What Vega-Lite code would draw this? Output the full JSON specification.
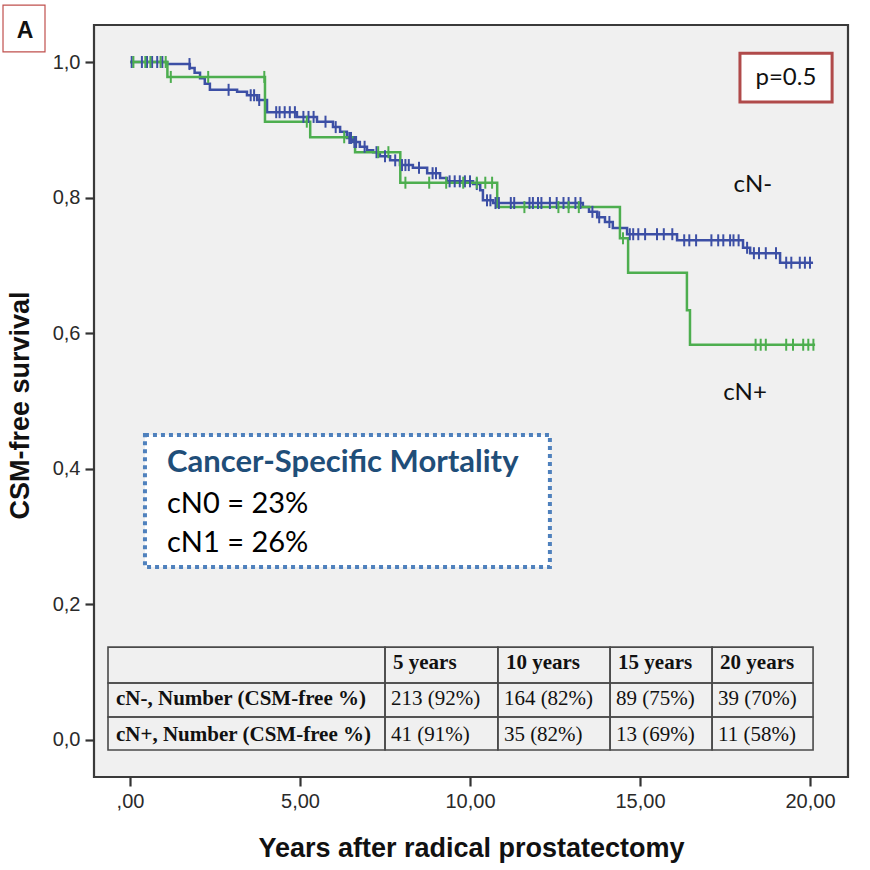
{
  "$schema": "https://vega.github.io/schema/vega-lite/v6.json",
  "width": 754,
  "height": 752,
  "autosize": {"type": "none"},
  "padding": {"left": 94, "top": 25, "right": 22, "bottom": 93},
  "background": "white",
  "config": {
    "view": {"fill": "#f0f0f0", "stroke": "#3a3a3a", "strokeWidth": 2.2},
    "font": "Liberation Sans"
  },
  "datasets": {
    "curves": [
      {"group": "cN-", "t": 0, "s": 1.0},
      {"group": "cN-", "t": 1.09, "s": 0.997},
      {"group": "cN-", "t": 1.76, "s": 0.991},
      {"group": "cN-", "t": 1.9, "s": 0.984},
      {"group": "cN-", "t": 2.06, "s": 0.976},
      {"group": "cN-", "t": 2.2, "s": 0.968},
      {"group": "cN-", "t": 2.35, "s": 0.959},
      {"group": "cN-", "t": 3.15, "s": 0.956},
      {"group": "cN-", "t": 3.44, "s": 0.951},
      {"group": "cN-", "t": 3.74, "s": 0.944},
      {"group": "cN-", "t": 4.03, "s": 0.926},
      {"group": "cN-", "t": 4.91, "s": 0.919},
      {"group": "cN-", "t": 5.5, "s": 0.912},
      {"group": "cN-", "t": 5.97, "s": 0.904},
      {"group": "cN-", "t": 6.18, "s": 0.897},
      {"group": "cN-", "t": 6.38, "s": 0.888},
      {"group": "cN-", "t": 6.56, "s": 0.882},
      {"group": "cN-", "t": 6.76, "s": 0.875},
      {"group": "cN-", "t": 6.97, "s": 0.87},
      {"group": "cN-", "t": 7.15, "s": 0.867},
      {"group": "cN-", "t": 7.35, "s": 0.861},
      {"group": "cN-", "t": 7.65, "s": 0.855},
      {"group": "cN-", "t": 7.94, "s": 0.848},
      {"group": "cN-", "t": 8.32, "s": 0.844},
      {"group": "cN-", "t": 8.74, "s": 0.836},
      {"group": "cN-", "t": 9.12, "s": 0.829},
      {"group": "cN-", "t": 9.32, "s": 0.824},
      {"group": "cN-", "t": 10.09, "s": 0.82},
      {"group": "cN-", "t": 10.3, "s": 0.811},
      {"group": "cN-", "t": 10.38, "s": 0.796},
      {"group": "cN-", "t": 10.68, "s": 0.792},
      {"group": "cN-", "t": 13.32, "s": 0.786},
      {"group": "cN-", "t": 13.5, "s": 0.779},
      {"group": "cN-", "t": 13.74, "s": 0.771},
      {"group": "cN-", "t": 13.97, "s": 0.764},
      {"group": "cN-", "t": 14.2, "s": 0.755},
      {"group": "cN-", "t": 14.62, "s": 0.746},
      {"group": "cN-", "t": 16.09, "s": 0.737},
      {"group": "cN-", "t": 18.03, "s": 0.726},
      {"group": "cN-", "t": 18.24, "s": 0.718},
      {"group": "cN-", "t": 19.12, "s": 0.704},
      {"group": "cN-", "t": 20.09, "s": 0.704},
      {"group": "cN+", "t": 0, "s": 1.0},
      {"group": "cN+", "t": 1.1, "s": 0.978},
      {"group": "cN+", "t": 3.97, "s": 0.912},
      {"group": "cN+", "t": 5.3, "s": 0.889},
      {"group": "cN+", "t": 6.62, "s": 0.867},
      {"group": "cN+", "t": 7.95, "s": 0.822},
      {"group": "cN+", "t": 10.8, "s": 0.786},
      {"group": "cN+", "t": 14.41, "s": 0.74},
      {"group": "cN+", "t": 14.65, "s": 0.689},
      {"group": "cN+", "t": 16.38, "s": 0.634},
      {"group": "cN+", "t": 16.47, "s": 0.583},
      {"group": "cN+", "t": 20.15, "s": 0.583}
    ],
    "censored": [
      {"group": "cN-", "t": 0.05, "s": 1.0},
      {"group": "cN-", "t": 0.35, "s": 1.0},
      {"group": "cN-", "t": 0.5, "s": 1.0},
      {"group": "cN-", "t": 0.65, "s": 1.0},
      {"group": "cN-", "t": 0.8, "s": 1.0},
      {"group": "cN-", "t": 0.95, "s": 1.0},
      {"group": "cN-", "t": 1.75, "s": 0.997},
      {"group": "cN-", "t": 2.9, "s": 0.959},
      {"group": "cN-", "t": 3.55, "s": 0.951},
      {"group": "cN-", "t": 3.65, "s": 0.951},
      {"group": "cN-", "t": 3.8, "s": 0.944},
      {"group": "cN-", "t": 4.3, "s": 0.926},
      {"group": "cN-", "t": 4.4, "s": 0.926},
      {"group": "cN-", "t": 4.55, "s": 0.926},
      {"group": "cN-", "t": 4.7, "s": 0.926},
      {"group": "cN-", "t": 4.85, "s": 0.926},
      {"group": "cN-", "t": 5.1, "s": 0.919},
      {"group": "cN-", "t": 5.25, "s": 0.919},
      {"group": "cN-", "t": 5.4, "s": 0.919},
      {"group": "cN-", "t": 5.75, "s": 0.912},
      {"group": "cN-", "t": 6.05, "s": 0.904},
      {"group": "cN-", "t": 6.45, "s": 0.888},
      {"group": "cN-", "t": 6.5, "s": 0.888},
      {"group": "cN-", "t": 6.6, "s": 0.882},
      {"group": "cN-", "t": 6.65, "s": 0.882},
      {"group": "cN-", "t": 6.9, "s": 0.875},
      {"group": "cN-", "t": 7.25, "s": 0.867},
      {"group": "cN-", "t": 7.5, "s": 0.861},
      {"group": "cN-", "t": 7.8, "s": 0.855},
      {"group": "cN-", "t": 8.0, "s": 0.848},
      {"group": "cN-", "t": 8.1, "s": 0.848},
      {"group": "cN-", "t": 8.2, "s": 0.848},
      {"group": "cN-", "t": 8.5, "s": 0.844},
      {"group": "cN-", "t": 8.9, "s": 0.836},
      {"group": "cN-", "t": 9.0, "s": 0.836},
      {"group": "cN-", "t": 9.4, "s": 0.824},
      {"group": "cN-", "t": 9.55, "s": 0.824},
      {"group": "cN-", "t": 9.7, "s": 0.824},
      {"group": "cN-", "t": 9.85, "s": 0.824},
      {"group": "cN-", "t": 10.0, "s": 0.824},
      {"group": "cN-", "t": 10.2, "s": 0.82},
      {"group": "cN-", "t": 10.5, "s": 0.796},
      {"group": "cN-", "t": 10.6, "s": 0.796},
      {"group": "cN-", "t": 10.75, "s": 0.792},
      {"group": "cN-", "t": 10.85, "s": 0.792},
      {"group": "cN-", "t": 11.2, "s": 0.792},
      {"group": "cN-", "t": 11.3, "s": 0.792},
      {"group": "cN-", "t": 11.75, "s": 0.792},
      {"group": "cN-", "t": 11.85, "s": 0.792},
      {"group": "cN-", "t": 12.0, "s": 0.792},
      {"group": "cN-", "t": 12.1, "s": 0.792},
      {"group": "cN-", "t": 12.35, "s": 0.792},
      {"group": "cN-", "t": 12.55, "s": 0.792},
      {"group": "cN-", "t": 12.75, "s": 0.792},
      {"group": "cN-", "t": 12.9, "s": 0.792},
      {"group": "cN-", "t": 13.1, "s": 0.792},
      {"group": "cN-", "t": 13.25, "s": 0.792},
      {"group": "cN-", "t": 13.6, "s": 0.779},
      {"group": "cN-", "t": 13.8, "s": 0.771},
      {"group": "cN-", "t": 14.1, "s": 0.764},
      {"group": "cN-", "t": 14.7, "s": 0.746},
      {"group": "cN-", "t": 14.8, "s": 0.746},
      {"group": "cN-", "t": 14.95, "s": 0.746},
      {"group": "cN-", "t": 15.15, "s": 0.746},
      {"group": "cN-", "t": 15.5, "s": 0.746},
      {"group": "cN-", "t": 15.7, "s": 0.746},
      {"group": "cN-", "t": 15.95, "s": 0.746},
      {"group": "cN-", "t": 16.3, "s": 0.737},
      {"group": "cN-", "t": 16.45, "s": 0.737},
      {"group": "cN-", "t": 16.65, "s": 0.737},
      {"group": "cN-", "t": 17.1, "s": 0.737},
      {"group": "cN-", "t": 17.3, "s": 0.737},
      {"group": "cN-", "t": 17.45, "s": 0.737},
      {"group": "cN-", "t": 17.65, "s": 0.737},
      {"group": "cN-", "t": 17.75, "s": 0.737},
      {"group": "cN-", "t": 17.9, "s": 0.737},
      {"group": "cN-", "t": 18.15, "s": 0.726},
      {"group": "cN-", "t": 18.35, "s": 0.718},
      {"group": "cN-", "t": 18.5, "s": 0.718},
      {"group": "cN-", "t": 18.7, "s": 0.718},
      {"group": "cN-", "t": 19.0, "s": 0.718},
      {"group": "cN-", "t": 19.3, "s": 0.704},
      {"group": "cN-", "t": 19.45, "s": 0.704},
      {"group": "cN-", "t": 19.7, "s": 0.704},
      {"group": "cN-", "t": 19.85, "s": 0.704},
      {"group": "cN-", "t": 20.0, "s": 0.704},
      {"group": "cN+", "t": 0.1, "s": 1.0},
      {"group": "cN+", "t": 0.45, "s": 1.0},
      {"group": "cN+", "t": 0.6, "s": 1.0},
      {"group": "cN+", "t": 0.9, "s": 1.0},
      {"group": "cN+", "t": 1.05, "s": 1.0},
      {"group": "cN+", "t": 1.2, "s": 0.978},
      {"group": "cN+", "t": 2.3, "s": 0.978},
      {"group": "cN+", "t": 3.95, "s": 0.978},
      {"group": "cN+", "t": 5.2, "s": 0.912},
      {"group": "cN+", "t": 6.3, "s": 0.889},
      {"group": "cN+", "t": 7.3, "s": 0.867},
      {"group": "cN+", "t": 7.6, "s": 0.867},
      {"group": "cN+", "t": 8.1, "s": 0.822},
      {"group": "cN+", "t": 8.8, "s": 0.822},
      {"group": "cN+", "t": 9.3, "s": 0.822},
      {"group": "cN+", "t": 9.8, "s": 0.822},
      {"group": "cN+", "t": 10.2, "s": 0.822},
      {"group": "cN+", "t": 10.45, "s": 0.822},
      {"group": "cN+", "t": 10.65, "s": 0.822},
      {"group": "cN+", "t": 11.6, "s": 0.786},
      {"group": "cN+", "t": 12.6, "s": 0.786},
      {"group": "cN+", "t": 12.9, "s": 0.786},
      {"group": "cN+", "t": 13.2, "s": 0.786},
      {"group": "cN+", "t": 14.5, "s": 0.74},
      {"group": "cN+", "t": 18.4, "s": 0.583},
      {"group": "cN+", "t": 18.55, "s": 0.583},
      {"group": "cN+", "t": 18.7, "s": 0.583},
      {"group": "cN+", "t": 19.3, "s": 0.583},
      {"group": "cN+", "t": 19.5, "s": 0.583},
      {"group": "cN+", "t": 19.8, "s": 0.583},
      {"group": "cN+", "t": 19.95, "s": 0.583},
      {"group": "cN+", "t": 20.1, "s": 0.583}
    ],
    "tableCols": [
      {"col": "label", "start": -0.647, "end": 7.5},
      {"col": "5 years", "start": 7.5, "end": 10.82},
      {"col": "10 years", "start": 10.82, "end": 14.12},
      {"col": "15 years", "start": 14.12, "end": 17.12},
      {"col": "20 years", "start": 17.12, "end": 20.09}
    ],
    "tableRows": [
      {"row": "head", "top": 0.137, "bottom": 0.084, "mid": 0.113},
      {"row": "cN-", "top": 0.084, "bottom": 0.034, "mid": 0.06},
      {"row": "cN+", "top": 0.034, "bottom": -0.0147, "mid": 0.008}
    ],
    "tableCells": [
      {"row": "head", "col": "label", "text": "", "weight": "bold"},
      {"row": "head", "col": "5 years", "text": "5 years", "weight": "bold"},
      {"row": "head", "col": "10 years", "text": "10 years", "weight": "bold"},
      {"row": "head", "col": "15 years", "text": "15 years", "weight": "bold"},
      {"row": "head", "col": "20 years", "text": "20 years", "weight": "bold"},
      {"row": "cN-", "col": "label", "text": "cN-, Number (CSM-free %)", "weight": "bold"},
      {"row": "cN-", "col": "5 years", "text": "213 (92%)", "weight": "normal"},
      {"row": "cN-", "col": "10 years", "text": "164 (82%)", "weight": "normal"},
      {"row": "cN-", "col": "15 years", "text": "89 (75%)", "weight": "normal"},
      {"row": "cN-", "col": "20 years", "text": "39 (70%)", "weight": "normal"},
      {"row": "cN+", "col": "label", "text": "cN+, Number (CSM-free %)", "weight": "bold"},
      {"row": "cN+", "col": "5 years", "text": "41 (91%)", "weight": "normal"},
      {"row": "cN+", "col": "10 years", "text": "35 (82%)", "weight": "normal"},
      {"row": "cN+", "col": "15 years", "text": "13 (69%)", "weight": "normal"},
      {"row": "cN+", "col": "20 years", "text": "11 (58%)", "weight": "normal"}
    ],
    "boxes": [
      {"box": "panel", "t0": -3.735, "t1": -2.5, "s0": 1.084, "s1": 1.015},
      {"box": "pvalue", "t0": 17.94, "t1": 20.65, "s0": 1.013, "s1": 0.941},
      {"box": "csm", "t0": 0.44, "t1": 12.35, "s0": 0.45, "s1": 0.255}
    ],
    "notes": [
      {"note": "panel", "text": "A", "t": -3.09, "s": 1.046},
      {"note": "pvalue", "text": "p=0.5", "t": 19.29, "s": 0.976},
      {"note": "group", "text": "cN-", "t": 18.32, "s": 0.819},
      {"note": "group", "text": "cN+", "t": 18.09, "s": 0.512},
      {"note": "csmTitle", "text": "Cancer-Specific Mortality", "t": 1.09, "s": 0.395},
      {"note": "csm", "text": "cN0 = 23%", "t": 1.09, "s": 0.335},
      {"note": "csm", "text": "cN1 = 26%", "t": 1.09, "s": 0.277}
    ]
  },
  "layer": [
    {
      "data": {"name": "curves"},
      "mark": {"type": "line", "interpolate": "step-after", "strokeWidth": 2.5},
      "encoding": {
        "x": {
          "field": "t", "type": "quantitative",
          "scale": {"domain": [-1.0588, 21.1176], "nice": false, "zero": false},
          "axis": {
            "values": [0, 5, 10, 15, 20],
            "labelExpr": "datum.value == 0 ? ',00' : replace(format(datum.value, '.2f'), '.', ',')",
            "grid": false, "domain": false,
            "tickSize": 9, "tickWidth": 2.2, "tickColor": "#333",
            "labelFont": "Liberation Sans", "labelFontSize": 20, "labelColor": "#2a2a2a", "labelPadding": 5,
            "title": "Years after radical prostatectomy",
            "titleFont": "Liberation Sans", "titleFontSize": 27, "titleFontWeight": "bold", "titleColor": "#111",
            "titleX": 377, "titleY": 71, "titleBaseline": "middle", "titleAlign": "center"
          }
        },
        "y": {
          "field": "s", "type": "quantitative",
          "scale": {"domain": [-0.0546, 1.0546], "nice": false, "zero": false},
          "axis": {
            "values": [0, 0.2, 0.4, 0.6, 0.8, 1.0],
            "labelExpr": "replace(format(datum.value, '.1f'), '.', ',')",
            "grid": false, "domain": false,
            "tickSize": 9, "tickWidth": 2.2, "tickColor": "#333",
            "labelFont": "Liberation Sans", "labelFontSize": 20, "labelColor": "#2a2a2a", "labelPadding": 5,
            "title": "CSM-free survival",
            "titleFont": "Liberation Sans", "titleFontSize": 27, "titleFontWeight": "bold", "titleColor": "#111",
            "titleAngle": -90, "titleX": -74, "titleY": 380, "titleBaseline": "middle", "titleAlign": "center"
          }
        },
        "color": {"field": "group", "type": "nominal", "scale": {"domain": ["cN-", "cN+"], "range": ["#3c4fa5", "#4dae4f"]}, "legend": null}
      }
    },
    {
      "data": {"name": "censored"},
      "mark": {"type": "tick", "orient": "vertical", "size": 12, "thickness": 2, "opacity": 1},
      "encoding": {
        "x": {"field": "t", "type": "quantitative", "scale": {"domain": [-1.0588, 21.1176], "nice": false, "zero": false}},
        "y": {"field": "s", "type": "quantitative", "scale": {"domain": [-0.0546, 1.0546], "nice": false, "zero": false}},
        "color": {"field": "group", "type": "nominal", "scale": {"domain": ["cN-", "cN+"], "range": ["#3c4fa5", "#4dae4f"]}, "legend": null}
      }
    },
    {
      "data": {"name": "tableCells"},
      "transform": [
        {"lookup": "col", "from": {"data": {"name": "tableCols"}, "key": "col", "fields": ["start", "end"]}},
        {"lookup": "row", "from": {"data": {"name": "tableRows"}, "key": "row", "fields": ["top", "bottom", "mid"]}}
      ],
      "layer": [
        {
          "mark": {"type": "rect", "fill": null, "stroke": "#4a4a4a", "strokeWidth": 1.6},
          "encoding": {
            "x": {"field": "start", "type": "quantitative", "scale": {"domain": [-1.0588, 21.1176], "nice": false, "zero": false}},
            "x2": {"field": "end"},
            "y": {"field": "top", "type": "quantitative", "scale": {"domain": [-0.0546, 1.0546], "nice": false, "zero": false}},
            "y2": {"field": "bottom"}
          }
        },
        {
          "transform": [{"filter": "datum.weight == 'bold'"}],
          "mark": {"type": "text", "align": "left", "baseline": "middle", "dx": 8, "font": "Liberation Serif", "fontSize": 21, "fontWeight": "bold", "color": "#111"},
          "encoding": {
            "x": {"field": "start", "type": "quantitative", "scale": {"domain": [-1.0588, 21.1176], "nice": false, "zero": false}},
            "y": {"field": "mid", "type": "quantitative", "scale": {"domain": [-0.0546, 1.0546], "nice": false, "zero": false}},
            "text": {"field": "text"}
          }
        },
        {
          "transform": [{"filter": "datum.weight == 'normal'"}],
          "mark": {"type": "text", "align": "left", "baseline": "middle", "dx": 6, "font": "Liberation Serif", "fontSize": 21, "color": "#111"},
          "encoding": {
            "x": {"field": "start", "type": "quantitative", "scale": {"domain": [-1.0588, 21.1176], "nice": false, "zero": false}},
            "y": {"field": "mid", "type": "quantitative", "scale": {"domain": [-0.0546, 1.0546], "nice": false, "zero": false}},
            "text": {"field": "text"}
          }
        }
      ]
    },
    {
      "data": {"name": "boxes"},
      "transform": [{"filter": "datum.box == 'panel'"}],
      "mark": {"type": "rect", "fill": "white", "stroke": "#c0504d", "strokeWidth": 1.2},
      "encoding": {
        "x": {"field": "t0", "type": "quantitative", "scale": {"domain": [-1.0588, 21.1176], "nice": false, "zero": false}},
        "x2": {"field": "t1"},
        "y": {"field": "s0", "type": "quantitative", "scale": {"domain": [-0.0546, 1.0546], "nice": false, "zero": false}},
        "y2": {"field": "s1"}
      }
    },
    {
      "data": {"name": "boxes"},
      "transform": [{"filter": "datum.box == 'pvalue'"}],
      "mark": {"type": "rect", "fill": "white", "stroke": "#b04a4a", "strokeWidth": 3},
      "encoding": {
        "x": {"field": "t0", "type": "quantitative", "scale": {"domain": [-1.0588, 21.1176], "nice": false, "zero": false}},
        "x2": {"field": "t1"},
        "y": {"field": "s0", "type": "quantitative", "scale": {"domain": [-0.0546, 1.0546], "nice": false, "zero": false}},
        "y2": {"field": "s1"}
      }
    },
    {
      "data": {"name": "boxes"},
      "transform": [{"filter": "datum.box == 'csm'"}],
      "mark": {"type": "rect", "fill": "white", "stroke": "#4f81bd", "strokeWidth": 4, "strokeDash": [4, 4]},
      "encoding": {
        "x": {"field": "t0", "type": "quantitative", "scale": {"domain": [-1.0588, 21.1176], "nice": false, "zero": false}},
        "x2": {"field": "t1"},
        "y": {"field": "s0", "type": "quantitative", "scale": {"domain": [-0.0546, 1.0546], "nice": false, "zero": false}},
        "y2": {"field": "s1"}
      }
    },
    {
      "data": {"name": "notes"},
      "transform": [{"filter": "datum.note == 'panel'"}],
      "mark": {"type": "text", "align": "center", "baseline": "middle", "font": "Liberation Sans", "fontSize": 23, "fontWeight": "bold", "color": "#111"},
      "encoding": {
        "x": {"field": "t", "type": "quantitative", "scale": {"domain": [-1.0588, 21.1176], "nice": false, "zero": false}},
        "y": {"field": "s", "type": "quantitative", "scale": {"domain": [-0.0546, 1.0546], "nice": false, "zero": false}},
        "text": {"field": "text"}
      }
    },
    {
      "data": {"name": "notes"},
      "transform": [{"filter": "datum.note == 'pvalue' || datum.note == 'group'"}],
      "mark": {"type": "text", "align": "center", "baseline": "middle", "font": "Lato", "fontSize": 24, "color": "#111"},
      "encoding": {
        "x": {"field": "t", "type": "quantitative", "scale": {"domain": [-1.0588, 21.1176], "nice": false, "zero": false}},
        "y": {"field": "s", "type": "quantitative", "scale": {"domain": [-0.0546, 1.0546], "nice": false, "zero": false}},
        "text": {"field": "text"}
      }
    },
    {
      "data": {"name": "notes"},
      "transform": [{"filter": "datum.note == 'csmTitle'"}],
      "mark": {"type": "text", "align": "left", "baseline": "alphabetic", "font": "Lato", "fontSize": 31, "fontWeight": "bold", "color": "#1f4e79"},
      "encoding": {
        "x": {"field": "t", "type": "quantitative", "scale": {"domain": [-1.0588, 21.1176], "nice": false, "zero": false}},
        "y": {"field": "s", "type": "quantitative", "scale": {"domain": [-0.0546, 1.0546], "nice": false, "zero": false}},
        "text": {"field": "text"}
      }
    },
    {
      "data": {"name": "notes"},
      "transform": [{"filter": "datum.note == 'csm'"}],
      "mark": {"type": "text", "align": "left", "baseline": "alphabetic", "font": "Lato", "fontSize": 29, "color": "#000"},
      "encoding": {
        "x": {"field": "t", "type": "quantitative", "scale": {"domain": [-1.0588, 21.1176], "nice": false, "zero": false}},
        "y": {"field": "s", "type": "quantitative", "scale": {"domain": [-0.0546, 1.0546], "nice": false, "zero": false}},
        "text": {"field": "text"}
      }
    }
  ]
}
